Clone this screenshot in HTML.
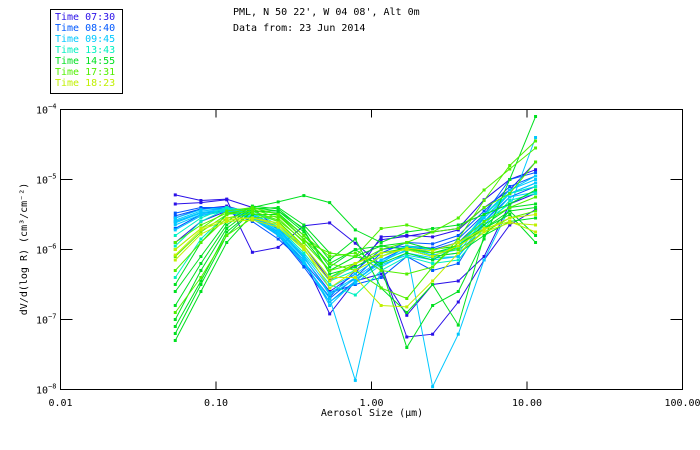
<!DOCTYPE html>
<html><head><meta charset="utf-8"><style>
body{margin:0;background:#fff;width:700px;height:450px;overflow:hidden}
svg{display:block}
text{font-family:"DejaVu Sans Mono","Liberation Mono",monospace;font-size:10px}
</style></head><body>
<svg id="chart" width="700" height="450">
<g>
<rect x="50.5" y="9.5" width="72" height="84" fill="#fff" stroke="#000"/>
<g id="legend-items"></g>
</g>
<text x="233" y="15" fill="#000">PML, N 50 22', W 04 08', Alt 0m</text>
<text x="233" y="31" fill="#000">Data from: 23 Jun 2014</text>
<rect x="60.5" y="109.5" width="622" height="280" fill="none" stroke="#000"/>
<g id="axes"></g>
<g id="series"></g>
<text transform="translate(27,249) rotate(-90)" text-anchor="middle" fill="#000">dV/d(log R) (cm³/cm⁻²)</text>
<text x="372" y="416" text-anchor="middle" fill="#000">Aerosol Size (μm)</text>
</svg>
<script>
const times=["Time 07:30","Time 08:40","Time 09:45","Time 13:43","Time 14:55","Time 17:31","Time 18:23"];
const colors=["#2a10e8","#0058ff","#00c8ff","#00f0c0","#00e020","#50f000","#c0f000"];
const xTickVals=[0.01,0.1,1,10,100];
const xTickLabels=["0.01","0.10","1.00","10.00","100.00"];
const yTickExps=[-4,-5,-6,-7,-8];
const sizeLogs=[-1.262,-1.097,-0.931,-0.766,-0.600,-0.435,-0.269,-0.104,0.062,0.227,0.393,0.558,0.724,0.889,1.055];
const seriesGroup=[0,0,0,0,1,1,1,1,2,2,2,2,2,2,3,3,3,4,4,4,4,4,4,4,5,5,5,5,5,6,6,6];
const s01=[-5.22,-5.30,-5.28,-5.40,-5.72,-5.95,-6.44,-6.22,-5.86,-5.81,-5.75,-5.70,-5.29,-5.00,-4.86];
const s02=[-5.35,-5.33,-5.29,-6.04,-5.97,-5.66,-5.62,-5.91,-6.22,-7.25,-7.21,-6.75,-6.15,-5.65,-5.43];
const s03=[-5.90,-5.60,-5.45,-5.55,-5.80,-6.15,-6.92,-6.45,-6.35,-6.94,-6.50,-6.45,-6.10,-5.35,-5.20];
const s04=[-5.55,-5.42,-5.38,-5.48,-5.70,-6.12,-6.60,-6.35,-5.82,-5.80,-5.82,-5.72,-5.40,-5.15,-4.75];
const s05=[-5.48,-5.40,-5.40,-5.50,-5.75,-6.20,-6.70,-6.40,-6.05,-5.90,-5.92,-5.80,-5.45,-5.10,-4.95];
const s06=[-5.60,-5.48,-5.45,-5.55,-5.80,-6.25,-6.75,-6.45,-6.15,-5.97,-6.00,-5.90,-5.55,-5.20,-5.05];
const s07=[-5.52,-5.42,-5.42,-5.52,-5.78,-6.22,-6.68,-6.30,-6.00,-5.95,-5.98,-5.85,-5.50,-5.00,-4.90];
const s08=[-5.70,-5.50,-5.46,-5.60,-5.85,-6.18,-6.62,-6.50,-6.40,-6.10,-6.30,-6.20,-5.60,-5.25,-5.10];
const s09=[-5.58,-5.45,-5.42,-5.50,-5.72,-6.10,-6.65,-6.42,-6.20,-5.95,-6.05,-5.98,-5.50,-5.15,-5.00];
const s10=[-5.62,-5.48,-5.44,-5.54,-5.76,-6.15,-6.80,-6.45,-6.18,-6.00,-6.10,-6.05,-5.55,-5.20,-5.05];
const s11=[-5.55,-5.43,-5.40,-5.48,-5.70,-6.08,-6.55,-6.35,-6.10,-5.98,-6.08,-6.00,-5.52,-5.15,-4.95];
const s12=[-5.65,-5.50,-5.46,-5.56,-5.80,-6.20,-6.70,-7.87,-6.25,-6.05,-6.12,-6.10,-5.60,-5.20,-5.10];
const s13=[-5.60,-5.47,-5.43,-5.52,-5.74,-6.12,-6.62,-6.40,-6.15,-6.02,-7.96,-7.21,-6.15,-5.40,-4.40];
const s14=[-5.72,-5.52,-5.45,-5.55,-5.78,-6.18,-6.75,-6.48,-6.22,-6.08,-6.15,-6.10,-5.65,-5.25,-5.18];
const s15=[-5.80,-5.55,-5.40,-5.45,-5.65,-6.00,-6.45,-6.30,-6.10,-5.95,-6.00,-5.95,-5.50,-5.20,-5.10];
const s16=[-5.95,-5.60,-5.42,-5.48,-5.68,-6.05,-6.50,-6.65,-6.30,-6.10,-6.20,-6.15,-5.70,-5.30,-5.20];
const s17=[-6.40,-5.85,-5.50,-5.45,-5.60,-5.95,-6.40,-6.25,-6.05,-6.00,-6.05,-5.98,-5.60,-5.35,-5.15];
const s18=[-6.50,-5.90,-5.50,-5.40,-5.32,-5.23,-5.33,-5.72,-5.90,-5.75,-5.70,-5.65,-5.50,-5.35,-5.15];
const s19=[-7.30,-6.60,-5.90,-5.50,-5.50,-5.85,-6.30,-6.10,-5.95,-6.00,-6.10,-6.05,-5.80,-5.45,-5.40];
const s20=[-7.20,-6.50,-5.80,-5.45,-5.45,-5.70,-6.15,-5.85,-6.55,-6.90,-6.50,-7.08,-5.80,-5.60,-5.55];
const s21=[-7.00,-6.30,-5.70,-5.42,-5.40,-5.65,-6.05,-6.10,-6.20,-6.05,-6.15,-5.95,-5.65,-5.40,-5.35];
const s22=[-7.10,-6.45,-5.75,-5.45,-5.48,-5.80,-6.20,-6.00,-6.25,-7.40,-6.80,-6.60,-5.85,-5.00,-4.10];
const s23=[-6.80,-6.20,-5.65,-5.40,-5.45,-5.75,-6.25,-6.00,-5.95,-5.90,-6.00,-5.95,-5.70,-5.50,-5.90];
const s24=[-6.60,-6.10,-5.60,-5.38,-5.42,-5.72,-6.35,-6.25,-6.05,-5.98,-6.05,-5.95,-5.70,-5.45,-5.80];
const s25=[-6.00,-5.70,-5.45,-5.40,-5.50,-5.80,-6.10,-6.05,-6.30,-6.35,-6.25,-5.85,-5.30,-4.80,-4.45];
const s26=[-5.90,-5.65,-5.48,-5.42,-5.55,-5.90,-6.30,-6.20,-6.00,-5.90,-5.75,-5.55,-5.15,-4.85,-4.55];
const s27=[-6.10,-5.75,-5.50,-5.45,-5.58,-5.88,-6.05,-6.10,-5.70,-5.65,-5.75,-5.70,-5.40,-5.20,-4.75];
const s28=[-6.90,-6.40,-5.80,-5.55,-5.52,-5.85,-6.20,-6.30,-6.55,-6.70,-6.25,-5.90,-5.60,-5.40,-5.25];
const s29=[-6.30,-5.90,-5.55,-5.48,-5.60,-5.95,-6.40,-6.20,-6.05,-6.00,-6.05,-6.00,-5.75,-5.55,-5.45];
const s30=[-6.08,-5.72,-5.58,-5.55,-5.62,-5.98,-6.55,-6.30,-6.10,-5.98,-6.02,-5.90,-5.70,-5.60,-5.75];
const s31=[-6.00,-5.70,-5.55,-5.55,-5.65,-5.95,-6.40,-6.40,-6.80,-6.82,-6.45,-6.05,-5.75,-5.62,-5.65];
const s32=[-6.15,-5.78,-5.60,-5.58,-5.68,-6.00,-6.45,-6.20,-6.05,-6.00,-6.10,-5.95,-5.72,-5.55,-5.50];
const seriesLogs=[s01,s02,s03,s04,s05,s06,s07,s08,s09,s10,s11,s12,s13,s14,s15,s16,s17,s18,s19,s20,s21,s22,s23,s24,s25,s26,s27,s28,s29,s30,s31,s32];

const NS="http://www.w3.org/2000/svg";
const L=60.5,R=682.5,T=109.5,B=389.5;
const xLog=v=>L+(v+2)/4*(R-L);
const xScale=v=>xLog(Math.log10(v));
const yLog=v=>T+(-4-v)/4*(B-T);
function mk(tag,attrs,parent){const e=document.createElementNS(NS,tag);for(const k in attrs)e.setAttribute(k,attrs[k]);parent.appendChild(e);return e;}

const leg=document.getElementById('legend-items');
times.forEach((t,i)=>{
  const e=mk('text',{x:55,y:20+i*11,fill:colors[i]},leg);
  e.textContent=t;
  
  
});

const ax=document.getElementById('axes');
xTickVals.forEach((v,i)=>{
  const x=xScale(v);
  if(i>0&&i<xTickVals.length-1){
    const a=mk('line',{x1:x,x2:x,y1:B,y2:B-8,stroke:'#000'},ax);
    
    
    const b=mk('line',{x1:x,x2:x,y1:T,y2:T+8,stroke:'#000'},ax);
    
    
  }
  const t=mk('text',{x:x,y:406,'text-anchor':'middle',fill:'#000'},ax);
  t.textContent=xTickLabels[i];
  
  
});
yTickExps.forEach((v,i)=>{
  const y=yLog(v);
  if(i>0&&i<yTickExps.length-1){
    const a=mk('line',{x1:L,x2:L+12,y1:y,y2:y,stroke:'#000'},ax);
    
    
    const b=mk('line',{x1:R,x2:R-12,y1:y,y2:y,stroke:'#000'},ax);
    
    
  }
  const t=mk('text',{x:36,y:y+4,fill:'#000'},ax);
  t.textContent='10';
  
  
  const s=mk('tspan',{dy:-5,'font-size':'7px'},t);
  s.textContent=String(v).replace('-','−');
});

const sg=document.getElementById('series');
seriesLogs.forEach((arr,si)=>{
  const c=colors[seriesGroup[si]];
  const g=mk('g',{},sg);
  
  
  const pts=arr.map((v,i)=>xLog(sizeLogs[i]).toFixed(1)+','+yLog(v).toFixed(1)).join(' ');
  mk('polyline',{points:pts,fill:'none',stroke:c,'stroke-width':1},g);
  arr.forEach((v,i)=>{
    const r=mk('rect',{x:xLog(sizeLogs[i])-1.5,y:yLog(v)-1.5,width:3,height:3,fill:c},g);
    
    
  });
});
</script>
</body></html>
